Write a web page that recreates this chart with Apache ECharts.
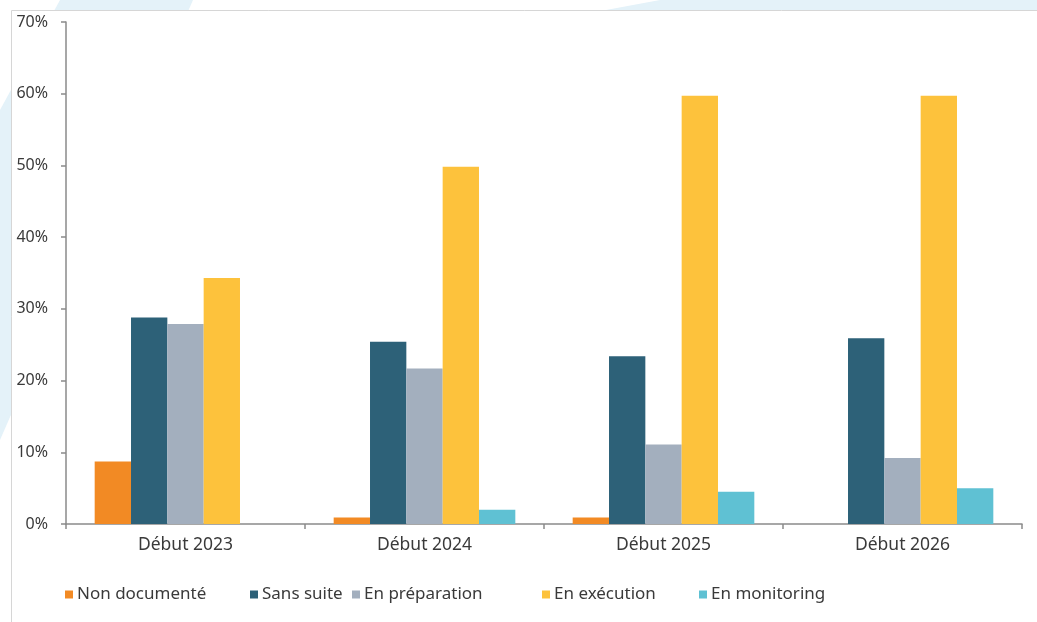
<!DOCTYPE html>
<html>
<head>
<meta charset="utf-8">
<script src="https://cdn.jsdelivr.net/npm/echarts@6/dist/echarts.min.js"></script>
<style>
html,body{margin:0;padding:0;background:#fff;}
#chart{width:1037px;height:622px;}
</style>
</head>
<body>
<div id="chart"></div>
<script>
const categories = ['Début 2023', 'Début 2024', 'Début 2025', 'Début 2026'];
const nonDocumente = [8.7, 0.9, 0.9, 0];
const sansSuite = [28.8, 25.4, 23.4, 25.9];
const enPreparation = [27.9, 21.7, 11.1, 9.2];
const enExecution = [34.3, 49.8, 59.7, 59.7];
const enMonitoring = [0, 2.0, 4.5, 5.0];
const seriesNames = ['Non documenté', 'Sans suite', 'En préparation', 'En exécution', 'En monitoring'];
const yTicks = [0, 10, 20, 30, 40, 50, 60, 70];

const colors = ['#F28A24', '#2D6178', '#A3AFBE', '#FDC23C', '#5FC1D3'];
const seriesData = [nonDocumente, sansSuite, enPreparation, enExecution, enMonitoring];
const legendLeft = [60, 245, 347, 537, 694];
const font = '"Noto Sans", "DejaVu Sans", sans-serif';

const chart = echarts.init(document.getElementById('chart'));
chart.setOption({
  animation: false,
  backgroundColor: '#ffffff',
  color: colors,
  graphic: [
    { type: 'polygon', z: -10, silent: true, shape: { points: [[60,0],[193,0],[0,440],[0,110]] }, style: { fill: '#e4f2f9' } },
    { type: 'polygon', z: -10, silent: true, shape: { points: [[660,0],[1037,0],[1037,10],[606,10]] }, style: { fill: '#e4f2f9' } },
    { type: 'rect', z: -9, silent: true, shape: { x: 11.5, y: 10.5, width: 1030, height: 620 }, style: { fill: '#ffffff', stroke: '#d6d6d6', lineWidth: 1 } }
  ],
  legend: seriesNames.map((n, i) => ({
    data: [n],
    left: legendLeft[i],
    top: 581,
    icon: 'rect',
    itemWidth: 8,
    itemHeight: 8,
    itemGap: 0,
    selectedMode: false,
    textStyle: { fontFamily: font, fontSize: 17, color: '#3a3a3a', padding: [0, 0, 0, -1] }
  })),
  grid: { left: 66, right: 15, top: 22, bottom: 98, containLabel: false },
  xAxis: {
    type: 'category',
    data: categories,
    axisLine: { lineStyle: { color: '#8a8a8a', width: 1.5 } },
    axisTick: { show: true, length: 5, lineStyle: { color: '#8a8a8a', width: 1.5 } },
    axisLabel: { fontFamily: font, fontSize: 17.5, color: '#3a3a3a', margin: 12 },
    splitLine: { show: false }
  },
  yAxis: {
    type: 'value',
    min: 0,
    max: 70,
    interval: 10,
    axisLine: { show: true, lineStyle: { color: '#8a8a8a', width: 1.5 } },
    axisTick: { show: true, length: 5, lineStyle: { color: '#8a8a8a', width: 1.5 } },
    axisLabel: {
      fontFamily: font, fontSize: 16, color: '#3a3a3a', margin: 18,
      formatter: v => yTicks.includes(v) ? v + '%' : ''
    },
    splitLine: { show: false }
  },
  series: seriesNames.map((n, i) => ({
    name: n,
    type: 'bar',
    data: seriesData[i],
    barGap: '0%',
    barCategoryGap: '24%',
    itemStyle: { color: colors[i] }
  }))
});
</script>
</body>
</html>
